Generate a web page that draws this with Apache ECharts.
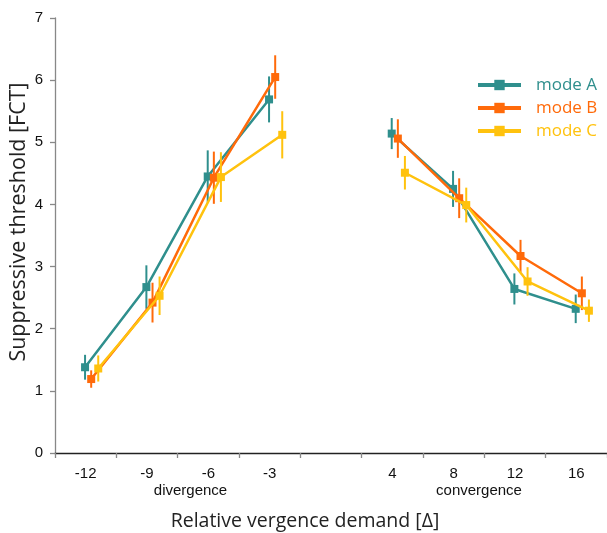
<!DOCTYPE html>
<html>
<head>
<meta charset="utf-8">
<script src="https://cdn.jsdelivr.net/npm/echarts@6/dist/echarts.min.js"></script>
<style>html,body{margin:0;padding:0;background:#fff}#c{width:607px;height:533px}</style>
</head>
<body>
<div id="c"></div>
<script>
// ---- data ----
const categories = ['-12', '-9', '-6', '-3', '', '4', '8', '12', '16'];
const divergence = ['-12', '-9', '-6', '-3'];
const convergence = ['4', '8', '12', '16'];
const yTicks = [0, 1, 2, 3, 4, 5, 6, 7];
const modeNames = ['mode A', 'mode B', 'mode C'];

const modeA_div = [1.38, 2.67, 4.45, 5.69];
const modeA_divErr = [0.20, 0.35, 0.42, 0.37];
const modeA_conv = [5.14, 4.25, 2.64, 2.32];
const modeA_convErr = [0.25, 0.29, 0.25, 0.23];

const modeB_div = [1.19, 2.42, 4.43, 6.05];
const modeB_divErr = [0.14, 0.32, 0.42, 0.35];
const modeB_conv = [5.06, 4.10, 3.17, 2.57];
const modeB_convErr = [0.31, 0.32, 0.26, 0.27];

const modeC_div = [1.36, 2.53, 4.44, 5.12];
const modeC_divErr = [0.21, 0.31, 0.40, 0.38];
const modeC_conv = [4.51, 3.99, 2.76, 2.29];
const modeC_convErr = [0.27, 0.28, 0.23, 0.18];

// ---- style ----
const colors = ['#2f8f8d', '#ff6a0a', '#ffc20e'];
const dodge = [-0.01, 0.09, 0.205]; // horizontal dodge of each mode within a category

const modes = [
  {div: modeA_div, divErr: modeA_divErr, conv: modeA_conv, convErr: modeA_convErr},
  {div: modeB_div, divErr: modeB_divErr, conv: modeB_conv, convErr: modeB_convErr},
  {div: modeC_div, divErr: modeC_divErr, conv: modeC_conv, convErr: modeC_convErr}
];

function pos(cat, m) { return categories.indexOf(cat) + 0.5 + dodge[m]; }

const series = [];
modes.forEach(function (md, m) {
  const errData = [];
  divergence.forEach(function (c, i) { errData.push([pos(c, m), md.div[i] - md.divErr[i], md.div[i] + md.divErr[i]]); });
  convergence.forEach(function (c, i) { errData.push([pos(c, m), md.conv[i] - md.convErr[i], md.conv[i] + md.convErr[i]]); });
  series.push({
    name: modeNames[m] + ' error',
    type: 'custom',
    xAxisIndex: 0,
    z: 2 + m * 2,
    silent: true,
    encode: {x: 0, y: [1, 2]},
    data: errData,
    renderItem: function (params, api) {
      const p1 = api.coord([api.value(0), api.value(1)]);
      const p2 = api.coord([api.value(0), api.value(2)]);
      return {type: 'line', shape: {x1: p1[0], y1: p1[1], x2: p2[0], y2: p2[1]},
        style: {stroke: colors[m], lineWidth: 2}};
    }
  });
});
modes.forEach(function (md, m) {
  [[divergence, md.div], [convergence, md.conv]].forEach(function (grp) {
    series.push({
      name: modeNames[m],
      type: 'line',
      xAxisIndex: 0,
      z: 3 + m * 2,
      symbol: 'rect',
      symbolSize: 8,
      showSymbol: true,
      animation: false,
      lineStyle: {color: colors[m], width: 2.5},
      itemStyle: {color: colors[m]},
      data: grp[0].map(function (c, i) { return [pos(c, m), grp[1][i]]; })
    });
  });
});

const chart = echarts.init(document.getElementById('c'));
chart.setOption({
  animation: false,
  grid: {left: 55, right: -2, top: 18, bottom: 80, containLabel: false},
  xAxis: [
    {type: 'value', min: 0, max: 9, interval: 1, position: 'bottom',
      axisLine: {show: true, onZero: false, lineStyle: {color: '#222', width: 1.3}},
      axisTick: {show: true, length: 5, lineStyle: {color: '#888', width: 1.3}},
      axisLabel: {show: false}, splitLine: {show: false}},
    {type: 'category', data: categories, position: 'bottom', offset: 0, boundaryGap: true,
      axisLine: {show: false}, axisTick: {show: false}, splitLine: {show: false},
      axisLabel: {fontSize: 15, color: '#111', margin: 13, fontFamily: 'Liberation Sans'}}
  ],
  yAxis: {type: 'value', min: yTicks[0], max: yTicks[yTicks.length - 1], interval: 1,
    axisLine: {show: true, lineStyle: {color: '#888', width: 1.3}},
    axisTick: {show: true, length: 5, lineStyle: {color: '#888', width: 1.3}},
    axisLabel: {fontSize: 15, color: '#111', margin: 12, fontFamily: 'Liberation Sans'},
    splitLine: {show: false}},
  legend: {
    orient: 'vertical', left: 471, top: 70, itemWidth: 43, itemHeight: 13, itemGap: 3,
    lineStyle: {width: 4},
    textStyle: {fontSize: 17, fontFamily: 'Open Sans', lineHeight: 20, padding: [0, 0, 0, 10]},
    data: modeNames.map(function (n, i) { return {name: n, textStyle: {color: colors[i]}}; })
  },
  graphic: [
    {type: 'text', x: 19, y: 222, rotation: Math.PI / 2,
      style: {text: 'Suppressive threshold [FCT]', fontSize: 21.5, fontFamily: 'Open Sans', fill: '#222',
        align: 'center', verticalAlign: 'middle'}},
    {type: 'text', x: 305, y: 521,
      style: {text: 'Relative vergence demand [Δ]', fontSize: 19.5, fontFamily: 'Open Sans', fill: '#222',
        align: 'center', verticalAlign: 'middle'}},
    {type: 'text', x: 190.5, y: 491,
      style: {text: 'divergence', fontSize: 15, fontFamily: 'Liberation Sans', fill: '#111',
        align: 'center', verticalAlign: 'middle'}},
    {type: 'text', x: 479, y: 491,
      style: {text: 'convergence', fontSize: 15, fontFamily: 'Liberation Sans', fill: '#111',
        align: 'center', verticalAlign: 'middle'}}
  ],
  series: series
});
</script>
</body>
</html>
